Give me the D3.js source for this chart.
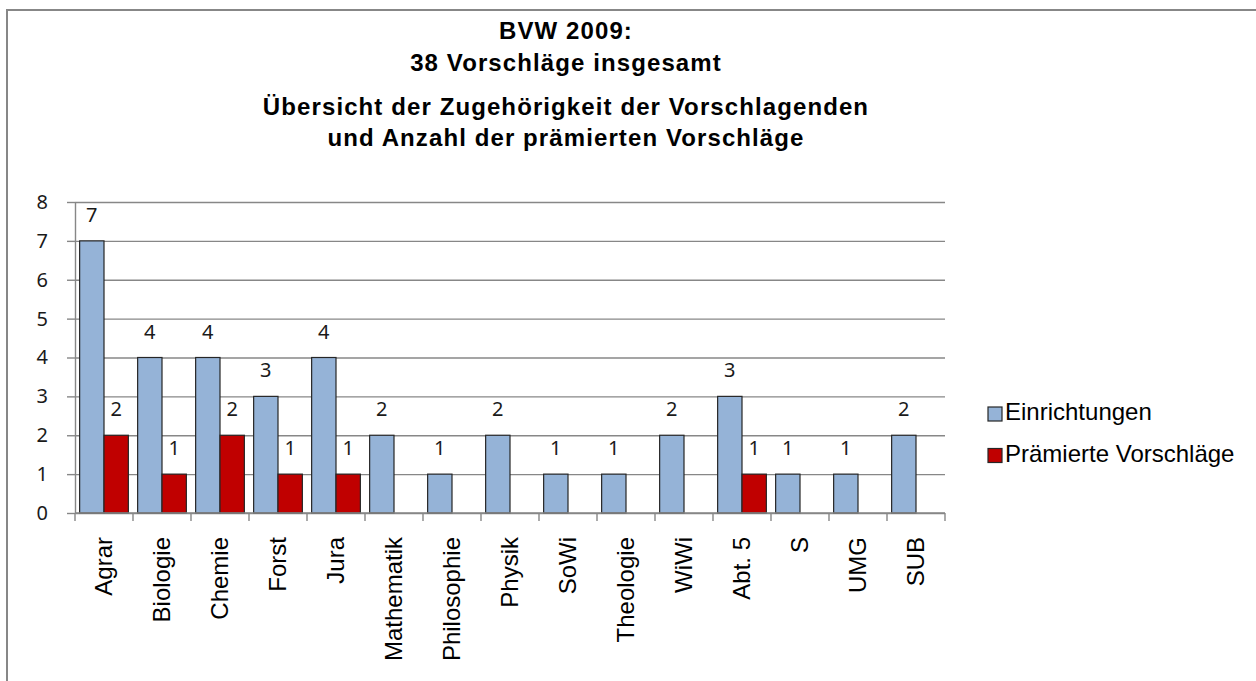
<!DOCTYPE html>
<html>
<head>
<meta charset="utf-8">
<script src="https://cdn.jsdelivr.net/npm/d3@7"></script>
<style>
  body { margin: 0; background: #fff; }
  svg { display: block; }
</style>
</head>
<body>
<div id="chart"></div>
<script>
var categories = ['Agrar', 'Biologie', 'Chemie', 'Forst', 'Jura', 'Mathematik', 'Philosophie',
  'Physik', 'SoWi', 'Theologie', 'WiWi', 'Abt. 5', 'S', 'UMG', 'SUB']
var einrichtungen = [7, 4, 4, 3, 4, 2, 1, 2, 1, 1, 2, 3, 1, 1, 2]
var praemierte = [2, 1, 2, 1, 1, null, null, null, null, null, null, 1, null, null, null]
var seriesNames = ['Einrichtungen', 'Prämierte Vorschläge']
var seriesColors = ['#95b3d7', '#c00000']
var titleLines = ['BVW 2009:', '38 Vorschläge insgesamt',
  'Übersicht der Zugehörigkeit der Vorschlagenden', 'und Anzahl der prämierten Vorschläge']
var yTicks = [0, 1, 2, 3, 4, 5, 6, 7, 8]

var W = 1256
var H = 681
var plotLeft = 75
var plotRight = 945
var plotTop = 202
var plotBottom = 513
var numFont = '"Noto Sans", "Open Sans", sans-serif'
var arial = '"Liberation Sans", Arial, sans-serif'

var svg = d3.select('#chart').append('svg')
  .attr('width', W)
  .attr('height', H)

// chart frame
svg.append('rect')
  .attr('x', 7).attr('y', 10)
  .attr('width', W + 20).attr('height', H + 20)
  .attr('fill', '#fff')
  .attr('stroke', '#878787')
  .attr('stroke-width', 2)

// title
var titleY = [39, 71, 115, 146]
svg.append('g').selectAll('text')
  .data(titleLines)
  .enter().append('text')
  .attr('x', 566)
  .attr('y', function (d, i) { return titleY[i] })
  .attr('text-anchor', 'middle')
  .style('font-family', arial)
  .style('font-weight', 'bold')
  .style('font-size', '24px')
  .style('letter-spacing', '1.1px')
  .text(function (d) { return d })

var x0 = d3.scaleBand()
  .domain(categories)
  .range([plotLeft, plotRight])
  .paddingInner(0.16)
  .paddingOuter(0.08)

var x1 = d3.scaleBand()
  .domain([0, 1])
  .range([0, x0.bandwidth()])

var y = d3.scaleLinear()
  .domain([0, 8])
  .range([plotBottom, plotTop])

// gridlines
svg.append('g')
  .attr('transform', 'translate(' + plotLeft + ',0)')
  .call(d3.axisLeft(y).tickValues(yTicks).tickSize(-(plotRight - plotLeft)).tickFormat(''))
  .call(function (g) { g.select('.domain').remove() })
  .selectAll('line')
  .attr('stroke', '#878787')
  .attr('stroke-width', 1.4)

// y axis
var yAxis = svg.append('g')
  .attr('transform', 'translate(' + plotLeft + ',0)')
  .call(d3.axisLeft(y).tickValues(yTicks).tickSize(8).tickPadding(19).tickSizeOuter(0))
yAxis.select('.domain').attr('stroke', '#878787').attr('stroke-width', 1.4)
yAxis.selectAll('line').attr('stroke', '#878787').attr('stroke-width', 1.4)
yAxis.selectAll('text')
  .style('font-family', numFont)
  .style('font-size', '20px')
  .attr('fill', '#1a1a1a')

// bars
var rows = categories.map(function (c, i) {
  return { cat: c, vals: [einrichtungen[i], praemierte[i]] }
})

var groups = svg.append('g').selectAll('g')
  .data(rows)
  .enter().append('g')
  .attr('transform', function (d) { return 'translate(' + x0(d.cat) + ',0)' })

var cells = groups.selectAll('g')
  .data(function (d) {
    return d.vals.map(function (v, k) { return { k: k, v: v } })
      .filter(function (e) { return e.v != null })
  })
  .enter().append('g')

cells.append('rect')
  .attr('x', function (d) { return x1(d.k) })
  .attr('y', function (d) { return y(d.v) })
  .attr('width', x1.bandwidth())
  .attr('height', function (d) { return y(0) - y(d.v) })
  .attr('fill', function (d) { return seriesColors[d.k] })
  .attr('stroke', '#262626')
  .attr('stroke-width', 1.2)

cells.append('text')
  .attr('x', function (d) { return x1(d.k) + x1.bandwidth() / 2 })
  .attr('y', function (d) { return y(d.v) - 19 })
  .attr('text-anchor', 'middle')
  .style('font-family', numFont)
  .style('font-size', '20px')
  .attr('fill', '#1a1a1a')
  .text(function (d) { return d.v })

// x axis line and category ticks
svg.append('line')
  .attr('x1', plotLeft).attr('x2', plotRight)
  .attr('y1', y(0)).attr('y2', y(0))
  .attr('stroke', '#878787')
  .attr('stroke-width', 1.4)

svg.append('g').selectAll('line')
  .data(d3.range(categories.length + 1))
  .enter().append('line')
  .attr('x1', function (i) { return plotLeft + i * x0.step() })
  .attr('x2', function (i) { return plotLeft + i * x0.step() })
  .attr('y1', y(0)).attr('y2', y(0) + 8)
  .attr('stroke', '#878787')
  .attr('stroke-width', 1.4)

svg.append('g').selectAll('text')
  .data(categories)
  .enter().append('text')
  .attr('transform', function (d) {
    return 'translate(' + (x0(d) + x0.bandwidth() / 2) + ',537) rotate(-90)'
  })
  .attr('dy', '0.35em')
  .attr('text-anchor', 'end')
  .style('font-family', arial)
  .style('font-size', '24px')
  .attr('fill', '#000')
  .text(function (d) { return d })

// legend
var legend = svg.append('g').selectAll('g')
  .data(seriesNames)
  .enter().append('g')
  .attr('transform', function (d, i) { return 'translate(988,' + (407 + i * 41.5) + ')' })

legend.append('rect')
  .attr('width', 14).attr('height', 14)
  .attr('fill', function (d, i) { return seriesColors[i] })
  .attr('stroke', '#262626')
  .attr('stroke-width', 1.2)

legend.append('text')
  .attr('x', 17)
  .attr('y', 13)
  .style('font-family', arial)
  .style('font-size', '24px')
  .attr('fill', '#000')
  .text(function (d) { return d })
</script>
</body>
</html>
